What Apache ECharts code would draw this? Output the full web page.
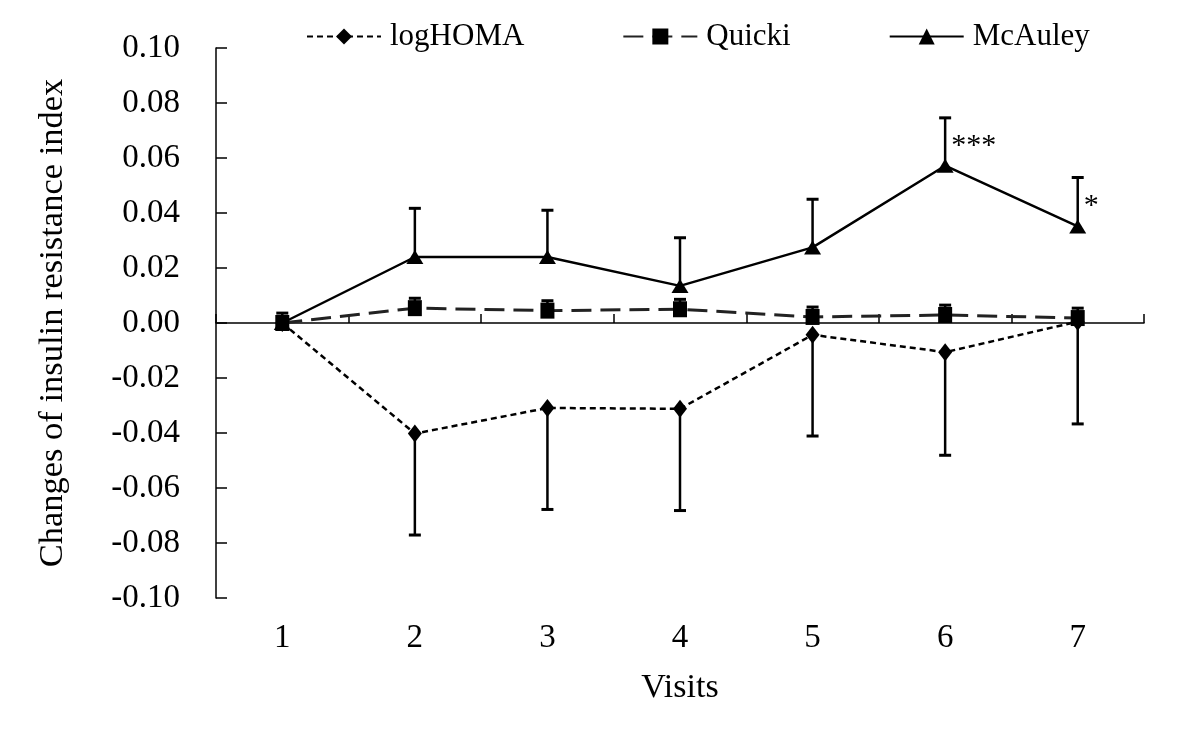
<!DOCTYPE html>
<html>
<head>
<meta charset="utf-8">
<script src="https://cdn.jsdelivr.net/npm/echarts@6/dist/echarts.min.js"></script>
<style>
html,body{margin:0;padding:0;background:#fff;}
#chart{width:1200px;height:754px;}
</style>
</head>
<body>
<div id="chart"></div>
<script>
const visits = ['1','2','3','4','5','6','7'];
const logHomaMean = [0, -0.0402, -0.0309, -0.0312, -0.0043, -0.0106, 0.0005];
const logHomaErr  = [0, 0.0369, 0.0369, 0.0370, 0.0368, 0.0375, 0.0372];
const quickiMean  = [0, 0.0054, 0.0045, 0.0050, 0.0022, 0.0029, 0.0018];
const quickiErr   = [0.0036, 0.0036, 0.0036, 0.0036, 0.0036, 0.0036, 0.0036];
const mcauleyMean = [0, 0.0240, 0.0240, 0.0135, 0.0275, 0.0572, 0.0351];
const mcauleyErr  = [0, 0.0177, 0.0170, 0.0175, 0.0175, 0.0174, 0.0178];
const sigLabels   = ['', '', '', '', '', '***', '*'];

const FONT = "'Liberation Serif','Times New Roman',serif";

function errSeries(mean, err, dir) {
  return {
    type: 'custom',
    xAxisIndex: 1,
    silent: true,
    z: 1,
    data: mean.map((m, i) => [i, m, m + dir * err[i]]),
    encode: { x: 0, y: [1, 2] },
    renderItem(params, api) {
      const p0 = api.coord([api.value(0), api.value(1)]);
      const p1 = api.coord([api.value(0), api.value(2)]);
      if (Math.abs(p1[1] - p0[1]) < 0.5) return null;
      return {
        type: 'group',
        children: [
          { type: 'line', shape: { x1: p0[0], y1: p0[1], x2: p1[0], y2: p1[1] }, style: { stroke: '#000', lineWidth: 2.5 } },
          { type: 'line', shape: { x1: p1[0] - 6, y1: p1[1], x2: p1[0] + 6, y2: p1[1] }, style: { stroke: '#000', lineWidth: 3 } }
        ]
      };
    }
  };
}

const sigSeries = {
  type: 'custom',
  xAxisIndex: 1,
  silent: true,
  z: 5,
  data: mcauleyMean.map((m, i) => [i, m, m + mcauleyErr[i]]),
  encode: { x: 0, y: [1, 2] },
  renderItem(params, api) {
    const lab = sigLabels[params.dataIndex];
    if (!lab) return null;
    const p0 = api.coord([api.value(0), api.value(1)]);
    const p1 = api.coord([api.value(0), api.value(2)]);
    return {
      type: 'text',
      style: {
        x: p1[0] + 6,
        y: (p0[1] + p1[1]) / 2 + 4.5,
        text: lab,
        font: '30px ' + FONT,
        fill: '#000',
        align: 'left',
        verticalAlign: 'middle'
      }
    };
  }
};

const chart = echarts.init(document.getElementById('chart'), null, { renderer: 'canvas' });
chart.setOption({
  animation: false,
  backgroundColor: '#fff',
  textStyle: { fontFamily: FONT, color: '#000' },
  legend: {
    top: 16,
    left: 301,
    itemWidth: 74,
    itemHeight: 20,
    itemGap: 98,
    data: ['logHOMA', 'Quicki', 'McAuley'],
    textStyle: { fontFamily: FONT, fontSize: 31, color: '#000', padding: [0, 0, 0, 4] }
  },
  grid: { left: 216, right: 56, top: 48, bottom: 156, containLabel: false },
  xAxis: [
    {
      type: 'category',
      data: visits,
      position: 'top',
      boundaryGap: true,
      axisLine: { onZero: true, lineStyle: { color: '#000', width: 1.5 } },
      axisTick: { show: true, inside: false, length: 9, interval: 0, lineStyle: { color: '#000', width: 1.5 } },
      axisLabel: { show: false },
      splitLine: { show: false }
    },
    {
      type: 'category',
      data: visits,
      position: 'bottom',
      boundaryGap: true,
      axisLine: { show: false, onZero: false },
      axisTick: { show: false },
      axisLabel: { show: true, margin: 24, fontSize: 33, fontFamily: FONT, color: '#000' },
      name: 'Visits',
      nameLocation: 'middle',
      nameGap: 73,
      nameTextStyle: { fontSize: 34, fontFamily: FONT, color: '#000' },
      splitLine: { show: false }
    }
  ],
  yAxis: {
    type: 'value',
    min: -0.1,
    max: 0.1,
    interval: 0.02,
    axisLine: { show: true, onZero: false, lineStyle: { color: '#000', width: 1.5 } },
    axisTick: { show: true, inside: true, length: 11, lineStyle: { color: '#000', width: 1.5 } },
    axisLabel: {
      margin: 36, fontSize: 33, fontFamily: FONT, color: '#000',
      formatter: v => (Math.abs(v) < 1e-9 ? '0.00' : v.toFixed(2))
    },
    splitLine: { show: false },
    name: 'Changes of insulin resistance index',
    nameLocation: 'middle',
    nameGap: 146,
    nameTextStyle: { fontSize: 34.5, fontFamily: FONT, color: '#000' }
  },
  series: [
    errSeries(logHomaMean, logHomaErr, -1),
    errSeries(quickiMean, quickiErr, 1),
    errSeries(mcauleyMean, mcauleyErr, 1),
    {
      name: 'logHOMA', type: 'line', xAxisIndex: 1, data: logHomaMean,
      symbol: 'diamond', symbolSize: [14, 18], z: 3,
      itemStyle: { color: '#000' },
      lineStyle: { color: '#000', width: 2.5, type: [6, 4] },
      emphasis: { disabled: true }
    },
    {
      name: 'Quicki', type: 'line', xAxisIndex: 1, data: quickiMean,
      symbol: 'rect', symbolSize: [14, 16], z: 3,
      itemStyle: { color: '#000' },
      lineStyle: { color: '#222', width: 3, type: [20, 9] },
      emphasis: { disabled: true }
    },
    {
      name: 'McAuley', type: 'line', xAxisIndex: 1, data: mcauleyMean,
      symbol: 'triangle', symbolSize: [17, 14], z: 4,
      itemStyle: { color: '#000' },
      lineStyle: { color: '#000', width: 2.5 },
      emphasis: { disabled: true }
    },
    sigSeries
  ]
});
</script>
</body>
</html>
